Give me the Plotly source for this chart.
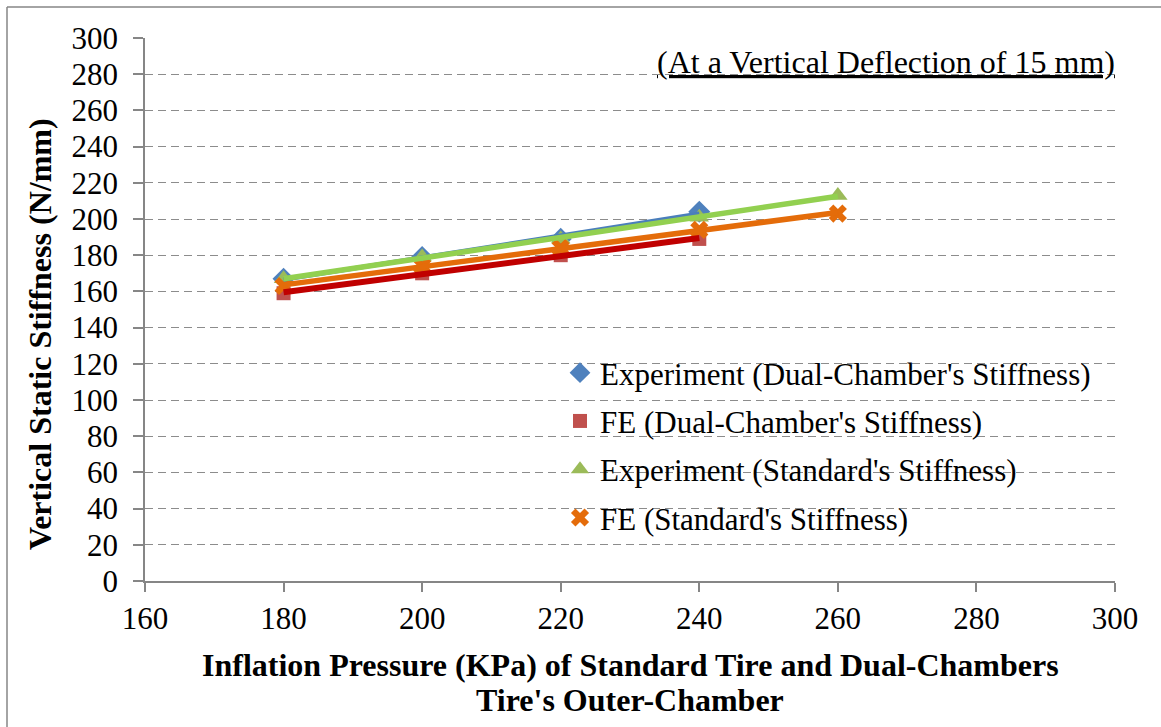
import numpy as np
import plotly.graph_objects as go

# ---- data ----
pressure_dual = [180, 200, 220, 240]
pressure_std = [180, 200, 220, 240, 260]
exp_dual = [167, 179, 189, 204]
fe_dual = [159, 170, 180, 189]
exp_std = [167, 179, 189, 201, 213]
fe_std = [163, 174, 184, 194, 203]

names = [
    "Experiment (Dual-Chamber's Stiffness)",
    "FE (Dual-Chamber's Stiffness)",
    "Experiment (Standard's Stiffness)",
    "FE (Standard's Stiffness)",
]
x_tick_vals = list(range(160, 301, 20))
y_tick_vals = list(range(0, 301, 20))

x_title_1 = "<b>Inflation Pressure (KPa) of Standard Tire and Dual-Chambers</b>"
x_title_2 = "<b>Tire's Outer-Chamber</b>"
y_title = "<b>Vertical Static Stiffness (N/mm)</b>"
note = "<u>(At a Vertical Deflection of 15 mm)</u>"

# ---- figure ----
W, H = 1161, 727
ML, MR, MT, MB = 145, 46, 38, 146
PW, PH = W - ML - MR, H - MT - MB

def px_x(p):
    return (p - ML) / PW

def px_y(p):
    return (H - MB - p) / PH

FONT = "Liberation Serif"
TICK = 31
TXT = 32

series = [
    (pressure_dual, exp_dual, names[0], "diamond", 17, "#4F81BD", "#4A7EBB", 4.5),
    (pressure_dual, fe_dual, names[1], "square", 14, "#C0504D", "#C00000", 6),
    (pressure_std, exp_std, names[2], "triangle-up", 17, "#9BBB59", "#92D050", 5.5),
    (pressure_std, fe_std, names[3], "x", 16, "#E46C0A", "#E46C0A", 5.5),
]

fig = go.Figure()
for i, (xs, ys, nm, sym, sz, mcol, lcol, lw) in enumerate(series):
    fig.add_trace(go.Scatter(
        x=xs, y=ys, mode="markers", name=nm,
        legendgroup=f"g{i}",
        marker=dict(symbol=sym, size=sz, color=mcol, line=dict(width=0)),
    ))

# linear trend lines (drawn on top of markers)
for i in [0, 1, 3, 2]:
    xs, ys, nm, sym, sz, mcol, lcol, lw = series[i]
    k, b = np.polyfit(xs, ys, 1)
    xe = [min(xs), max(xs)]
    fig.add_trace(go.Scatter(
        x=xe, y=[k * v + b for v in xe], mode="lines", showlegend=False,
        line=dict(color=lcol, width=lw), hoverinfo="skip",
    ))

fig.update_layout(
    width=W, height=H,
    margin=dict(l=ML, r=MR, t=MT, b=MB),
    paper_bgcolor="white", plot_bgcolor="white",
    font=dict(family=FONT, size=TICK, color="black"),
    showlegend=True,
    legend=dict(
        x=px_x(560), y=px_y(346), xanchor="left", yanchor="top",
        bgcolor="rgba(0,0,0,0)", font=dict(size=TICK, family=FONT),
        tracegroupgap=5, itemsizing="trace",
    ),
    xaxis=dict(
        range=[160, 300], tickvals=x_tick_vals, showgrid=False,
        showline=True, linecolor="#868686", linewidth=1.5,
        ticks="outside", ticklen=9, tickcolor="#868686", tickwidth=1.5,
        tickfont=dict(size=TICK, family=FONT), zeroline=False, fixedrange=True,
    ),
    yaxis=dict(
        range=[0, 300], tickvals=y_tick_vals, showgrid=True,
        gridcolor="#8C8C8C", gridwidth=1.3, griddash="8px,5px",
        showline=True, linecolor="#868686", linewidth=1.5,
        ticks="outside", ticklen=10, tickcolor="#868686", tickwidth=1.5,
        ticklabelstandoff=9,
        tickfont=dict(size=TICK, family=FONT), zeroline=False, fixedrange=True,
    ),
    shapes=[
        dict(type="rect", xref="paper", yref="paper", layer="between",
             x0=px_x(543), x1=1.0, y0=px_y(556), y1=px_y(345),
             fillcolor="white", line=dict(width=0)),
        dict(type="line", xref="paper", yref="paper",
             x0=px_x(7), x1=px_x(W + 5), y0=px_y(7), y1=px_y(7),
             line=dict(color="#868686", width=1.5)),
        dict(type="line", xref="paper", yref="paper",
             x0=px_x(7), x1=px_x(7), y0=px_y(7), y1=px_y(H + 5),
             line=dict(color="#868686", width=1.5)),
    ],
    annotations=[
        dict(text=note, xref="paper", yref="paper", x=px_x(1117), y=px_y(62),
             xanchor="right", yanchor="middle", showarrow=False,
             font=dict(size=TXT, family=FONT)),
        dict(text=x_title_1, xref="paper", yref="paper", x=px_x(630), y=px_y(665),
             xanchor="center", yanchor="middle", showarrow=False,
             font=dict(size=TXT, family=FONT)),
        dict(text=x_title_2, xref="paper", yref="paper", x=px_x(630), y=px_y(700),
             xanchor="center", yanchor="middle", showarrow=False,
             font=dict(size=TXT, family=FONT)),
        dict(text=y_title, xref="paper", yref="paper", x=px_x(40), y=px_y(334),
             xanchor="center", yanchor="middle", showarrow=False, textangle=-90,
             font=dict(size=TXT, family=FONT)),
    ],
)

fig.write_html("out.html", config={"displayModeBar": False},
               post_script="document.body.style.margin='0';document.body.style.overflow='hidden';")
